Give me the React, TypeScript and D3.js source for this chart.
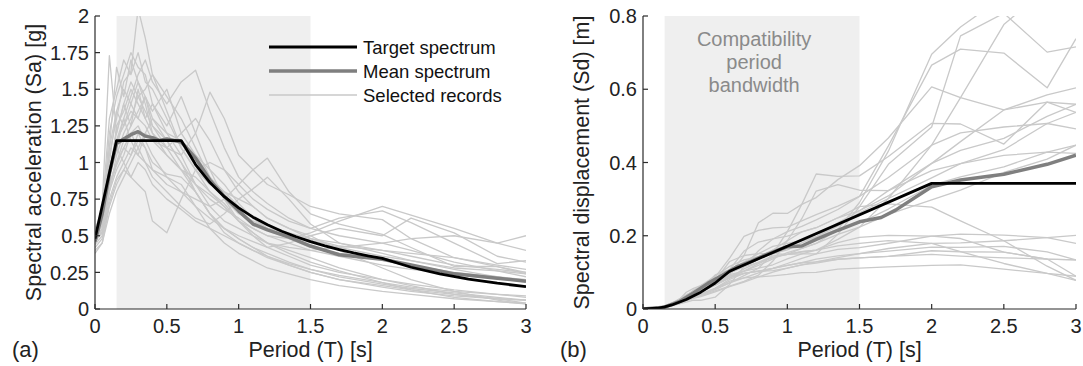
import * as React from "react";
import * as d3 from "d3";

// periods at which the selected records are sampled [s]
const periods = [0, 0.05, 0.1, 0.15, 0.2, 0.25, 0.3, 0.35, 0.4, 0.5, 0.6, 0.7, 0.8, 0.9, 1.0, 1.1, 1.2, 1.35, 1.5, 1.7, 2.0, 2.2, 2.5, 2.8, 3.0];

// Sa of each selected record [g], one row per record
const recordsSa = [
  [0.50, 0.62, 1.05, 1.30, 1.55, 1.62, 2.05, 1.85, 1.60, 1.35, 1.10, 0.95, 0.80, 0.72, 0.60, 0.52, 0.45, 0.38, 0.32, 0.26, 0.18, 0.13, 0.08, 0.05, 0.04],
  [0.48, 0.70, 1.73, 1.20, 1.40, 1.25, 1.50, 1.30, 1.20, 1.05, 0.95, 0.80, 0.65, 0.55, 0.48, 0.42, 0.38, 0.32, 0.27, 0.22, 0.17, 0.14, 0.11, 0.08, 0.06],
  [0.52, 0.60, 1.10, 1.65, 1.45, 1.70, 1.55, 1.45, 1.35, 1.50, 1.20, 1.05, 0.90, 0.80, 0.75, 0.70, 0.62, 0.55, 0.48, 0.43, 0.40, 0.36, 0.30, 0.27, 0.25],
  [0.45, 0.55, 0.90, 1.15, 1.30, 1.45, 1.60, 1.70, 1.55, 1.40, 1.55, 1.63, 1.35, 1.10, 0.90, 0.80, 0.72, 0.62, 0.55, 0.50, 0.45, 0.40, 0.32, 0.26, 0.22],
  [0.47, 0.58, 0.95, 1.10, 1.00, 0.90, 0.85, 0.80, 0.60, 0.52, 0.75, 0.95, 1.00, 0.95, 0.85, 0.75, 0.68, 0.60, 0.55, 0.62, 0.67, 0.59, 0.45, 0.31, 0.33],
  [0.55, 0.65, 1.00, 1.35, 1.50, 1.40, 1.30, 1.25, 1.15, 1.10, 1.05, 1.20, 1.48, 1.30, 1.05, 0.95, 0.85, 0.78, 0.70, 0.65, 0.61, 0.48, 0.35, 0.29, 0.25],
  [0.50, 0.60, 0.85, 1.00, 1.10, 1.05, 1.20, 1.10, 0.95, 0.85, 0.80, 0.75, 0.70, 0.75, 0.85, 0.95, 1.03, 0.80, 0.65, 0.58, 0.51, 0.42, 0.29, 0.29, 0.24],
  [0.46, 0.52, 0.80, 0.95, 1.05, 1.20, 1.25, 1.15, 1.05, 0.90, 0.80, 0.70, 0.62, 0.55, 0.50, 0.46, 0.42, 0.45, 0.50, 0.55, 0.50, 0.62, 0.52, 0.36, 0.32],
  [0.49, 0.57, 0.88, 1.25, 1.35, 1.50, 1.40, 1.30, 1.40, 1.20, 1.05, 0.85, 0.70, 0.60, 0.55, 0.50, 0.45, 0.42, 0.40, 0.42, 0.45, 0.48, 0.50, 0.45, 0.40],
  [0.51, 0.60, 0.92, 1.15, 1.25, 1.35, 1.30, 1.45, 1.25, 1.15, 1.00, 0.85, 0.75, 0.68, 0.62, 0.55, 0.50, 0.48, 0.52, 0.60, 0.70, 0.64, 0.55, 0.45, 0.50],
  [0.44, 0.50, 0.75, 0.90, 1.00, 1.10, 1.05, 1.00, 0.90, 0.80, 0.70, 0.62, 0.58, 0.65, 0.75, 0.82, 0.90, 0.75, 0.58, 0.45, 0.38, 0.33, 0.27, 0.22, 0.19],
  [0.53, 0.62, 1.20, 1.45, 1.60, 1.75, 1.65, 1.60, 1.40, 1.25, 1.45, 1.20, 0.95, 0.75, 0.60, 0.50, 0.42, 0.36, 0.30, 0.25, 0.20, 0.17, 0.13, 0.10, 0.08],
  [0.40, 0.45, 0.70, 0.85, 0.95, 1.05, 1.15, 1.10, 1.00, 0.92, 0.90, 0.80, 0.65, 0.52, 0.45, 0.40, 0.36, 0.31, 0.27, 0.23, 0.18, 0.15, 0.12, 0.10, 0.09],
  [0.48, 0.55, 0.80, 1.05, 1.20, 1.30, 1.45, 1.50, 1.60, 1.45, 1.30, 1.10, 0.90, 0.75, 0.65, 0.60, 0.55, 0.52, 0.48, 0.45, 0.40, 0.38, 0.35, 0.30, 0.27],
  [0.50, 0.58, 0.95, 1.10, 1.30, 1.15, 1.05, 1.20, 1.30, 1.15, 1.00, 0.80, 0.65, 0.55, 0.48, 0.42, 0.36, 0.30, 0.25, 0.20, 0.15, 0.12, 0.09, 0.07, 0.06],
  [0.47, 0.52, 0.85, 1.00, 1.15, 1.25, 1.35, 1.45, 1.30, 1.20, 1.15, 1.05, 0.95, 0.85, 0.72, 0.62, 0.55, 0.48, 0.42, 0.38, 0.34, 0.30, 0.25, 0.22, 0.20],
  [0.52, 0.65, 1.10, 1.35, 1.25, 1.40, 1.55, 1.40, 1.20, 1.10, 0.95, 0.85, 0.78, 0.70, 0.60, 0.52, 0.45, 0.40, 0.35, 0.28, 0.20, 0.16, 0.10, 0.07, 0.06],
  [0.42, 0.48, 0.72, 0.88, 0.95, 0.90, 1.00, 0.95, 0.85, 0.75, 0.68, 0.60, 0.55, 0.50, 0.45, 0.40, 0.35, 0.30, 0.25, 0.20, 0.16, 0.13, 0.10, 0.07, 0.04],
  [0.54, 0.68, 1.30, 1.50, 1.70, 1.60, 1.75, 1.55, 1.50, 1.30, 1.10, 0.95, 0.85, 0.80, 0.70, 0.62, 0.55, 0.50, 0.47, 0.42, 0.36, 0.33, 0.28, 0.26, 0.24],
  [0.46, 0.53, 0.82, 0.98, 1.10, 1.20, 1.10, 1.00, 0.95, 0.90, 0.85, 0.70, 0.55, 0.45, 0.38, 0.33, 0.28, 0.24, 0.20, 0.16, 0.12, 0.10, 0.07, 0.05, 0.035],
  [0.38, 0.45, 0.65, 0.80, 0.90, 1.00, 1.10, 1.20, 1.15, 1.05, 0.95, 0.90, 0.80, 0.70, 0.60, 0.55, 0.50, 0.45, 0.40, 0.36, 0.30, 0.27, 0.24, 0.21, 0.20],
  [0.50, 0.60, 0.95, 1.20, 1.40, 1.55, 1.45, 1.35, 1.25, 1.10, 1.20, 1.30, 1.15, 0.95, 0.80, 0.70, 0.62, 0.55, 0.50, 0.40, 0.28, 0.20, 0.12, 0.06, 0.035],
];

// target spectrum, Sa [g]
const targetSaT = [0, 0.15, 0.6, 0.7, 0.8, 0.9, 1.0, 1.1, 1.2, 1.3, 1.4, 1.5, 1.6, 1.7, 1.8, 1.9, 2.0, 2.2, 2.4, 2.6, 2.8, 3.0];
const targetSa = [0.48, 1.15, 1.15, 0.986, 0.863, 0.767, 0.69, 0.627, 0.575, 0.531, 0.493, 0.46, 0.431, 0.406, 0.383, 0.363, 0.345, 0.285, 0.24, 0.204, 0.176, 0.153];

// mean spectrum, Sa [g]
const meanSaT = [0, 0.05, 0.1, 0.15, 0.2, 0.25, 0.3, 0.35, 0.4, 0.45, 0.5, 0.55, 0.6, 0.7, 0.8, 0.9, 1.0, 1.1, 1.2, 1.35, 1.5, 1.7, 2.0, 2.2, 2.5, 2.8, 3.0];
const meanSa = [0.46, 0.65, 0.92, 1.13, 1.16, 1.19, 1.21, 1.18, 1.17, 1.15, 1.16, 1.15, 1.14, 1.03, 0.88, 0.77, 0.67, 0.58, 0.54, 0.49, 0.43, 0.37, 0.34, 0.30, 0.24, 0.21, 0.19];

// target spectrum, Sd [m]
const targetSdT = [0, 0.1, 0.15, 0.2, 0.3, 0.4, 0.5, 0.6, 2.0, 3.0];
const targetSd = [0, 0.002, 0.006, 0.011, 0.026, 0.046, 0.071, 0.103, 0.343, 0.343];

// mean spectrum, Sd [m]
const meanSdT = [0, 0.15, 0.25, 0.35, 0.45, 0.55, 0.65, 0.75, 0.85, 1.0, 1.1, 1.2, 1.35, 1.5, 1.65, 1.75, 2.0, 2.2, 2.5, 2.8, 3.0];
const meanSd = [0, 0.005, 0.02, 0.044, 0.07, 0.092, 0.115, 0.13, 0.148, 0.17, 0.172, 0.19, 0.215, 0.238, 0.25, 0.27, 0.334, 0.352, 0.368, 0.395, 0.42];

// Sd of the same records: Sd = Sa * g * (T / 2pi)^2
const recordsSd = recordsSa.map(r => r.map((sa, i) => sa * 9.81 * Math.pow(periods[i] / (2 * Math.PI), 2)));

const band = [0.15, 1.5];
const xTicks = [0, 0.5, 1, 1.5, 2, 2.5, 3];
const saTicks = [0, 0.25, 0.5, 0.75, 1, 1.25, 1.5, 1.75, 2];
const sdTicks = [0, 0.2, 0.4, 0.6, 0.8];

const FONT = "'Liberation Sans', Arial, Helvetica, sans-serif";
const REC = "#c9c9c9";
const MEAN = "#7f7f7f";
const AXIS = "#2b2b2b";

const top = 16, bottom = 309;

function Panel(props: any) {
  const { id, left, right, yMax, yTicks, records, target, mean, yLabel, tag, children } = props;
  const x = d3.scaleLinear().domain([0, 3]).range([left, right]);
  const y = d3.scaleLinear().domain([0, yMax]).range([bottom, top]);
  const line = d3.line<[number, number]>().x(d => x(d[0])).y(d => y(d[1]));
  const pairs = (ts: number[], vs: number[]) => ts.map((t, i) => [t, vs[i]] as [number, number]);

  return (
    <g>
      <clipPath id={id}>
        <rect x={left} y={top} width={right - left} height={bottom - top} />
      </clipPath>
      <rect x={x(band[0])} y={top} width={x(band[1]) - x(band[0])} height={bottom - top} fill="#efefef" />
      {children(x, y)}
      <g clipPath={`url(#${id})`} fill="none" strokeLinejoin="round">
        {records.map((r: number[], i: number) => (
          <path key={i} d={line(pairs(periods, r)) || ""} stroke={REC} strokeWidth={1.3} />
        ))}
        <path d={line(pairs(mean[0], mean[1])) || ""} stroke={MEAN} strokeWidth={3.5} />
        <path d={line(pairs(target[0], target[1])) || ""} stroke="#000" strokeWidth={2.8} />
      </g>
      {/* axes */}
      <line x1={left} x2={left} y1={top} y2={bottom} stroke={AXIS} strokeWidth={1.2} />
      <line x1={left} x2={right} y1={bottom} y2={bottom} stroke={AXIS} strokeWidth={1.2} />
      {yTicks.map((t: number) => (
        <g key={"y" + t}>
          <line x1={left} x2={left + 5} y1={y(t)} y2={y(t)} stroke={AXIS} strokeWidth={1.2} />
          <text x={left - 6} y={y(t)} dy="0.36em" textAnchor="end" fontSize={20} fill="#222">{String(t)}</text>
        </g>
      ))}
      {xTicks.map(t => (
        <g key={"x" + t}>
          <line x1={x(t)} x2={x(t)} y1={bottom} y2={bottom - 5} stroke={AXIS} strokeWidth={1.2} />
          <text x={x(t)} y={333} textAnchor="middle" fontSize={20} fill="#222">{String(t)}</text>
        </g>
      ))}
      <text x={x(1.5)} y={357} textAnchor="middle" fontSize={21.5} fill="#222">Period (T) [s]</text>
      <text transform={`translate(${left - 54},${(top + bottom) / 2}) rotate(-90)`} textAnchor="middle" fontSize={21.5} fill="#222">{yLabel}</text>
      <text x={left - 83} y={357} fontSize={22} fill="#222">{tag}</text>
    </g>
  );
}

export default function App() {
  const legend = [
    { label: "Target spectrum", color: "#000", w: 2.8 },
    { label: "Mean spectrum", color: MEAN, w: 3.5 },
    { label: "Selected records", color: REC, w: 1.3 },
  ];
  return (
    <svg width={1083} height={366} style={{ position: "absolute", left: 0, top: 0, fontFamily: FONT, background: "#fff" }}>
      <Panel id="clipA" left={95} right={526} yMax={2} yTicks={saTicks} records={recordsSa}
        target={[targetSaT, targetSa]} mean={[meanSaT, meanSa]}
        yLabel="Spectral acceleration (Sa) [g]" tag="(a)">
        {() => null}
      </Panel>
      <Panel id="clipB" left={643} right={1076} yMax={0.8} yTicks={sdTicks} records={recordsSd}
        target={[targetSdT, targetSd]} mean={[meanSdT, meanSd]}
        yLabel="Spectral displacement (Sd) [m]" tag="(b)">
        {(x: any) => (
          <text x={x(0.77)} y={46} textAnchor="middle" fontSize={20} fill="#8a8a8a">
            <tspan x={x(0.77)}>Compatibility</tspan>
            <tspan x={x(0.77)} dy={23}>period</tspan>
            <tspan x={x(0.77)} dy={23}>bandwidth</tspan>
          </text>
        )}
      </Panel>
      {legend.map((l, i) => (
        <g key={l.label} transform={`translate(269,${47 + i * 24})`}>
          <line x1={0} x2={88} y1={0} y2={0} stroke={l.color} strokeWidth={l.w} />
          <text x={94} y={0} dy="0.36em" fontSize={18.5} fill="#111">{l.label}</text>
        </g>
      ))}
    </svg>
  );
}
